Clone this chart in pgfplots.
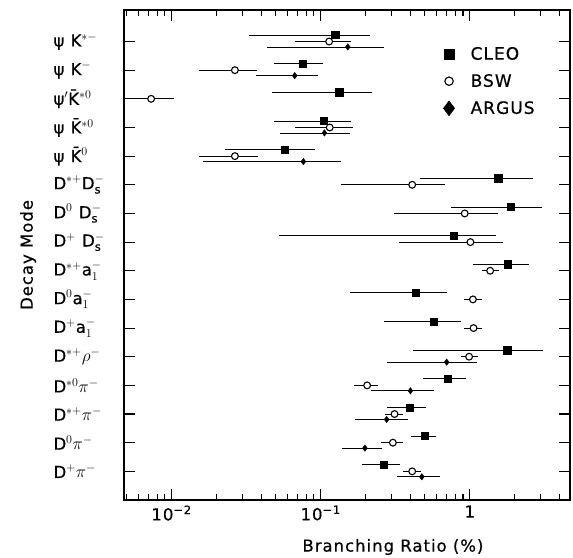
\documentclass[border=0pt]{standalone}
\usepackage{fontspec}
\setmainfont{DejaVu Sans}[LetterSpace=6, FakeBold=0.5]
\usepackage{amsmath}
\usepackage{pgfplots}
\usepackage{pgfplotstable}
\pgfplotsset{compat=1.18}

% x = branching ratio (%), lo/hi = ends of the bar, y = row (1 = bottom) with offset
\pgfplotstableread{
x      lo      hi      y
0.265  0.188   0.338   1.23
0.497  0.405   0.597   2.23
0.396  0.277   0.511   3.23
0.714  0.485   0.95    4.23
1.78   0.415   3.12    5.23
0.575  0.268   0.88    6.23
0.433  0.158   0.703   7.23
1.79   1.05    2.51    8.23
0.78   0.0526  1.51    9.23
1.88   0.745   3.04    10.23
1.55   0.461   2.67    11.23
0.0574 0.0228  0.0914  12.23
0.105  0.0486  0.161   13.23
0.133  0.0473  0.22    14.23
0.0755 0.0486  0.103   15.23
0.125  0.033   0.214   16.23
}\cleo

\pgfplotstableread{
x      lo      hi      y
0.411  0.356   0.473   1
0.305  0.254   0.358   2
0.313  0.271   0.356   3
0.205  0.168   0.244   4
0.99   0.87    1.14    5
1.06   0.916   1.20    6
1.05   0.916   1.20    7
1.37   1.20    1.57    8
1.01   0.334   1.68    9
0.925  0.308   1.54    10
0.411  0.137   0.679   11
0.0266 0.0152  0.0381  12
0.115  0.0673  0.165   13
0.0073 0.0049  0.0104  14
0.0266 0.0152  0.0375  15
0.114  0.067   0.161   16
}\bsw

\pgfplotstableread{
x      lo      hi      y
0.477  0.326   0.635   0.81
0.198  0.140   0.257   1.81
0.277  0.171   0.384   2.81
0.40   0.216   0.575   3.81
0.70   0.279   1.11    4.81
0.0766 0.0162  0.137   11.81
0.106  0.0534  0.157   12.81
0.067  0.0366  0.0967  14.81
0.152  0.0438  0.264   15.81
}\argus

\begin{document}
\begin{tikzpicture}
\begin{axis}[
    scale only axis,
    width=446pt, height=490pt,
    xmode=log,
    xmin=0.0048, xmax=4.7,
    ymin=0, ymax=17.1,
    axis line style={line width=2.2pt},
    tick style={black, line width=1.1pt},
    major tick length=11pt, minor tick length=6pt,
    xtick={0.01,0.1,1},
    xticklabels={10\textsuperscript{−2}, 10\textsuperscript{−1}, 1},
    minor xtick={0.005,0.006,0.007,0.008,0.009,
                 0.02,0.03,0.04,0.05,0.06,0.07,0.08,0.09,
                 0.2,0.3,0.4,0.5,0.6,0.7,0.8,0.9,2,3,4},
    ytick={1,...,16},
    yticklabels={
        D$^{+}\pi^{-}$,
        D$^{0}\pi^{-}$,
        D$^{*+}\pi^{-}$,
        D$^{*0}\pi^{-}$,
        D$^{*+}\rho^{-}$,
        D$^{+}$a$_{1}^{-}$,
        D$^{0}$a$_{1}^{-}$,
        D$^{*+}$a$_{1}^{-}$,
        D$^{+}$ D$_{\text{s}}^{-}$,
        D$^{0}$ D$_{\text{s}}^{-}$,
        D$^{*+}$D$_{\text{s}}^{-}$,
        ψ \=K$^{0}$,
        ψ \=K$^{*0}$,
        ψ$'$\=K$^{*0}$,
        ψ K$^{-}$,
        ψ K$^{*-}$},
    ticklabel style={font=\fontsize{16.5}{18}\selectfont},
    yticklabel style={anchor=west, xshift=-74pt},
    xticklabel style={yshift=-2pt},
    xlabel={Branching Ratio (\%)},
    ylabel={Decay Mode},
    label style={font=\fontsize{16.5}{18}\selectfont},
    xlabel style={at={(axis description cs:0.603,-0.096)}, anchor=center},
    ylabel style={at={(axis description cs:-0.215,0.5)}, anchor=center},
    legend cell align=left,
    legend style={draw=none, fill=none, font=\fontsize{17}{19}\selectfont,
        at={(axis description cs:0.709,0.933)}, anchor=north west,
        row sep=9pt, column sep=14pt},
]
\addplot[only marks, black, mark=square*, mark size=3.6pt,
    legend image post style={mark size=5.2pt},
    error bars/x dir=both, error bars/x explicit, error bars/error mark=none,
    error bars/error bar style={line width=0.7pt}]
    table[x=x, y=y, x error plus expr=\thisrow{hi}-\thisrow{x},
          x error minus expr=\thisrow{x}-\thisrow{lo}] {\cleo};
\addlegendentry{CLEO}
\addplot[only marks, black, mark=*, mark size=3.4pt,
    mark options={fill=white, line width=1.1pt},
    legend image post style={mark size=4.2pt},
    error bars/x dir=both, error bars/x explicit, error bars/error mark=none,
    error bars/error bar style={line width=0.7pt}]
    table[x=x, y=y, x error plus expr=\thisrow{hi}-\thisrow{x},
          x error minus expr=\thisrow{x}-\thisrow{lo}] {\bsw};
\addlegendentry{BSW}
\addplot[only marks, black, mark=diamond*, mark size=3.2pt,
    legend image post style={mark size=7.5pt},
    error bars/x dir=both, error bars/x explicit, error bars/error mark=none,
    error bars/error bar style={line width=0.7pt}]
    table[x=x, y=y, x error plus expr=\thisrow{hi}-\thisrow{x},
          x error minus expr=\thisrow{x}-\thisrow{lo}] {\argus};
\addlegendentry{ARGUS}
\end{axis}
\pgfresetboundingbox
\path[use as bounding box]
    ([shift={(-124pt,-58pt)}]current axis.south west)
    rectangle ([shift={(3pt,10pt)}]current axis.north east);
\end{tikzpicture}
\end{document}
